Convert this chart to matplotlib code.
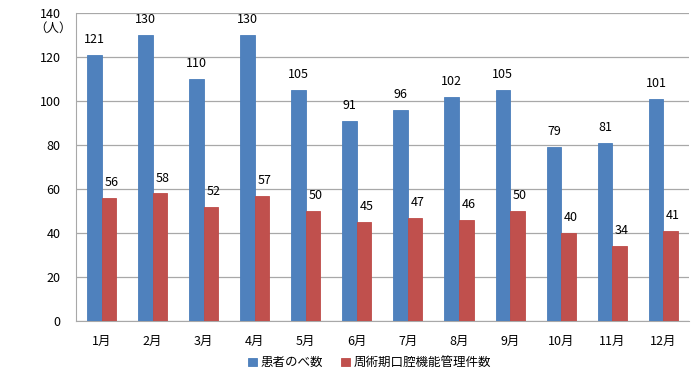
import numpy as np
import matplotlib
matplotlib.use('Agg')
import matplotlib.pyplot as plt

plt.rcParams['font.family'] = ['Noto Sans CJK JP', 'DejaVu Sans']

months = ['1月', '2月', '3月', '4月', '5月', '6月', '7月', '8月', '9月', '10月', '11月', '12月']
patients = [121, 130, 110, 130, 105, 91, 96, 102, 105, 79, 81, 101]
management = [56, 58, 52, 57, 50, 45, 47, 46, 50, 40, 34, 41]
series_names = ['患者のべ数', '周術期口腔機能管理件数']

fig = plt.figure(figsize=(7, 3.82), dpi=100)
ax = fig.add_axes([0.1086, 0.1597, 0.8754, 0.8063])

x = np.arange(len(months))
w = 0.285
b1 = ax.bar(x - w / 2, patients, w, color='#4F81BD', edgecolor='#4A7EBB', linewidth=0.6,
            label=series_names[0], zorder=3)
b2 = ax.bar(x + w / 2, management, w, color='#C0504D', edgecolor='#BE4B48', linewidth=0.6,
            label=series_names[1], zorder=3)

for xi, v in zip(x, patients):
    ax.text(xi - w / 2, v + 4, str(v), ha='center', va='bottom', fontsize=9)
for xi, v in zip(x, management):
    ax.text(xi + w / 2 + 0.05, v + 4, str(v), ha='center', va='bottom', fontsize=9)

ax.set_xlim(-0.5, len(months) - 0.5)
ax.set_ylim(0, 140)
ax.set_yticks(range(0, 141, 20))
ax.set_xticks(x)
ax.set_xticklabels(months)
ax.tick_params(axis='both', length=0, labelsize=9)
ax.tick_params(axis='y', pad=11)
ax.tick_params(axis='x', pad=10)
ax.yaxis.grid(True, color='#A8A8A8', linewidth=0.9, zorder=0)
for s in ['top', 'right']:
    ax.spines[s].set_visible(False)
ax.spines['left'].set_color('#A8A8A8')
ax.spines['bottom'].set_color('#A8A8A8')

fig.text(0.076, 0.925, '（人）', ha='center', va='center', fontsize=9)

fig.legend(handles=[b1, b2], loc='center', bbox_to_anchor=(0.528, 0.05), ncol=2, frameon=False,
           fontsize=9, handlelength=0.7, handleheight=0.7, handletextpad=0.3, columnspacing=1.4)

fig.savefig('out.png', dpi=100)
